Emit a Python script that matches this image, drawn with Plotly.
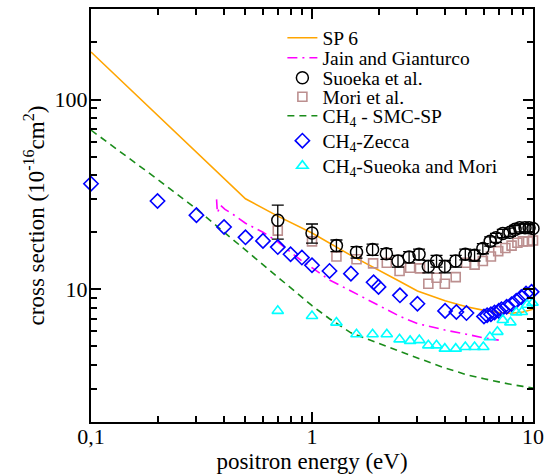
import plotly.graph_objects as go

# ---------------- data ----------------
sp6_e = [0.1, 0.5, 0.7, 1.0, 1.5, 2.0, 2.5, 3.0, 4.0, 5.0, 6.0, 7.0, 8.0, 9.0, 10.0]
sp6_s = [178, 30.0, 24.3, 19.8, 15.1, 12.7, 11.0, 9.8, 8.7, 8.1, 7.75, 7.55, 7.48, 7.6, 7.85]

jain_e = [0.370, 0.373, 0.386, 0.404, 0.44, 0.5, 0.6, 0.7, 0.8, 0.9, 1.0, 1.2, 1.5, 2.0, 2.5,
          3.0, 3.5, 4.0, 5.0, 6.0, 7.0]
jain_s = [29.8, 25.3, 27.7, 26.4, 24.8, 22.3, 20.0, 17.8, 15.7, 14.1, 13.0, 11.2, 9.8, 8.2, 7.2,
          6.6, 6.3, 6.1, 5.8, 5.55, 5.4]

suoeka_e = [0.7, 1.0, 1.29, 1.59, 1.88, 2.17, 2.45, 2.75, 3.05, 3.36, 3.66, 3.99, 4.47, 4.94,
            5.44, 5.93, 6.4, 6.8, 7.3, 7.87, 8.3, 8.7, 9.2, 9.6, 10.0]
suoeka_s = [23.1, 19.8, 17.0, 15.7, 16.2, 15.4, 14.1, 14.8, 15.3, 13.2, 14.1, 13.2, 14.1, 15.3,
            15.1, 16.4, 17.9, 18.7, 19.7, 20.0, 20.7, 21.1, 21.1, 21.1, 20.9]
suoeka_err = [4.7, 2.3, 1.2, 1.1, 1.1, 1.0, 1.0, 1.0, 1.0, 1.0, 1.0, 1.0, 1.0, 1.0,
              1.0, 1.0, 1.0, 1.0, 1.0, 1.0, 1.0, 1.0, 1.0, 1.0, 1.0]

mori_e = [0.7, 1.0, 1.29, 1.59, 1.89, 2.18, 2.49, 2.78, 3.08, 3.36, 3.66, 3.99, 4.47, 4.98,
          5.44, 5.93, 6.45, 6.96, 7.5, 8.0, 8.5, 9.0, 9.5, 10.0]
mori_s = [20.4, 17.9, 14.9, 14.4, 13.7, 13.8, 12.5, 13.0, 12.9, 10.7, 11.5, 10.7, 11.6, 13.8,
          13.5, 14.1, 14.9, 15.9, 16.5, 17.0, 17.6, 17.9, 17.9, 18.1]

smc_e = [0.1, 0.2, 0.3, 0.4, 0.5, 0.6, 0.7, 0.8, 1.0, 1.2, 1.5, 2.0, 2.5, 3.0, 4.0, 5.0,
         6.0, 7.0, 8.0, 9.0, 10.0]
smc_s = [69, 38.0, 26.5, 20.0, 16.1, 13.5, 11.6, 10.2, 8.2, 7.0, 5.9, 5.2, 4.7, 4.35, 3.85, 3.55,
         3.38, 3.25, 3.15, 3.08, 3.02]

zecca_e = [0.1, 0.2, 0.3, 0.4, 0.5, 0.6, 0.7, 0.8, 0.9, 1.0, 1.2, 1.5, 1.9, 2.0, 2.5, 3.0,
           4.0, 4.5, 5.0, 6.0, 6.2, 6.45, 6.7, 7.0, 7.2, 7.6, 8.0, 8.4, 8.85, 9.3, 9.85]
zecca_s = [36, 29.2, 24.6, 21.3, 18.8, 18.0, 16.7, 15.3, 14.7, 13.4, 12.5, 12.1, 10.9, 10.3, 9.3, 8.4,
           7.7, 7.6, 7.5, 7.2, 7.3, 7.4, 7.55, 7.7, 7.85, 8.1, 8.35, 8.7, 9.1, 9.5, 9.7]

sm_e = [0.7, 1.0, 1.29, 1.59, 1.88, 2.18, 2.49, 2.78, 3.06, 3.36, 3.66, 3.99, 4.47, 4.94,
        5.44, 5.96, 6.38, 6.9, 7.3, 7.9, 8.4, 8.9, 9.4, 9.95]
sm_s = [7.7, 7.24, 6.68, 5.8, 5.8, 5.8, 5.45, 5.35, 5.4, 5.07, 5.07, 4.87, 4.87, 4.97,
        4.97, 4.97, 5.6, 5.97, 6.9, 6.7, 7.56, 7.6, 8.3, 8.5]

x_tickvals = [0.1, 1, 10]
x_ticktext = ["0,1", "1", "10"]
y_tickvals = [10, 100]
y_ticktext = ["10", "100"]
x_minor = [0.2, 0.3, 0.4, 0.5, 0.6, 0.7, 0.8, 0.9, 2, 3, 4, 5, 6, 7, 8, 9]
y_minor = [2, 3, 4, 5, 6, 7, 8, 9, 20, 30, 40, 50, 60, 70, 80, 90, 200, 300]

# ---------------- figure ----------------
FONT = "Liberation Serif, Times New Roman, serif"
fig = go.Figure()

fig.add_trace(go.Scatter(x=sp6_e, y=sp6_s, mode="lines", name="SP 6",
                         line=dict(color="#FFA500", width=1.6), legend="legend"))
fig.add_trace(go.Scatter(x=jain_e, y=jain_s, mode="lines", name="Jain and Gianturco",
                         line=dict(color="#FF00FF", width=1.6, dash="10px,5px,2px,5px"),
                         legend="legend2"))
fig.add_trace(go.Scatter(x=smc_e, y=smc_s, mode="lines", name="CH<sub>4</sub> - SMC-SP",
                         line=dict(color="#1A8C1A", width=1.6, dash="7px,5px"),
                         legend="legend5"))
fig.add_trace(go.Scatter(x=mori_e, y=mori_s, mode="markers", name="Mori et al.",
                         marker=dict(symbol="square-open", size=9, color="#BC8F8F",
                                     line=dict(width=1.6)),
                         cliponaxis=False, legend="legend4"))
fig.add_trace(go.Scatter(x=suoeka_e, y=suoeka_s, mode="markers", name="Suoeka et al.",
                         marker=dict(symbol="circle-open", size=12, color="black",
                                     line=dict(width=1.5)),
                         error_y=dict(type="data", array=suoeka_err, color="black",
                                      thickness=1.3, width=6),
                         cliponaxis=False, legend="legend3"))
fig.add_trace(go.Scatter(x=zecca_e, y=zecca_s, mode="markers", name="CH<sub>4</sub>-Zecca",
                         marker=dict(symbol="diamond-open", size=11, color="#0000FF",
                                     line=dict(width=1.6)),
                         cliponaxis=False, legend="legend6"))
fig.add_trace(go.Scatter(x=sm_e, y=sm_s, mode="markers", name="CH<sub>4</sub>-Sueoka and Mori",
                         marker=dict(symbol="triangle-up-open", size=10, color="#00FFFF",
                                     line=dict(width=1.6)),
                         cliponaxis=False, legend="legend7"))

W, H = 549, 476
L, R, T, B = 91, 16, 9, 54
ph = H - T - B


def leg(ypix):
    return dict(x=0.433, y=(H - B - ypix) / ph, xanchor="left", yanchor="middle",
                bgcolor="rgba(0,0,0,0)", borderwidth=0, itemwidth=30,
                font=dict(family=FONT, size=19.5, color="black"),
                tracegroupgap=0)


axis_common = dict(type="log", showline=True, linecolor="black", linewidth=2,
                   mirror="allticks", ticks="inside", ticklen=10, tickwidth=1.5,
                   tickcolor="black", showgrid=False, zeroline=False, automargin=False,
                   tickfont=dict(family=FONT, size=22, color="black"))

fig.update_layout(
    width=W, height=H,
    margin=dict(l=L, r=R, t=T, b=B, autoexpand=False),
    paper_bgcolor="white", plot_bgcolor="white",
    font=dict(family=FONT, color="black"),
    showlegend=True,
    legend=leg(38), legend2=leg(58), legend3=leg(78), legend4=leg(97),
    legend5=leg(116), legend6=leg(141), legend7=leg(166),
    xaxis=dict(range=[-1, 1], tickmode="array", tickvals=x_tickvals, ticktext=x_ticktext,
               minor=dict(tickmode="array", tickvals=x_minor, ticks="inside", ticklen=6,
                          tickwidth=1.5, tickcolor="black"),
               ticklabelstandoff=-6,
               title=dict(text="positron energy (eV)", font=dict(family=FONT, size=23),
                          standoff=3),
               **axis_common),
    yaxis=dict(range=[0.30103, 2.4771], tickmode="array", tickvals=y_tickvals,
               ticktext=y_ticktext,
               minor=dict(tickmode="array", tickvals=y_minor, ticks="inside", ticklen=6,
                          tickwidth=1.5, tickcolor="black"),
               ticklabelstandoff=-3,
               title=dict(text="cross section (10<sup>-16</sup>cm<sup>2</sup>)",
                          font=dict(family=FONT, size=23), standoff=4),
               **axis_common),
)

fig.write_html("out.html", config={"displayModeBar": False},
               post_script="document.body.style.margin='0';document.body.style.overflow='hidden';")
